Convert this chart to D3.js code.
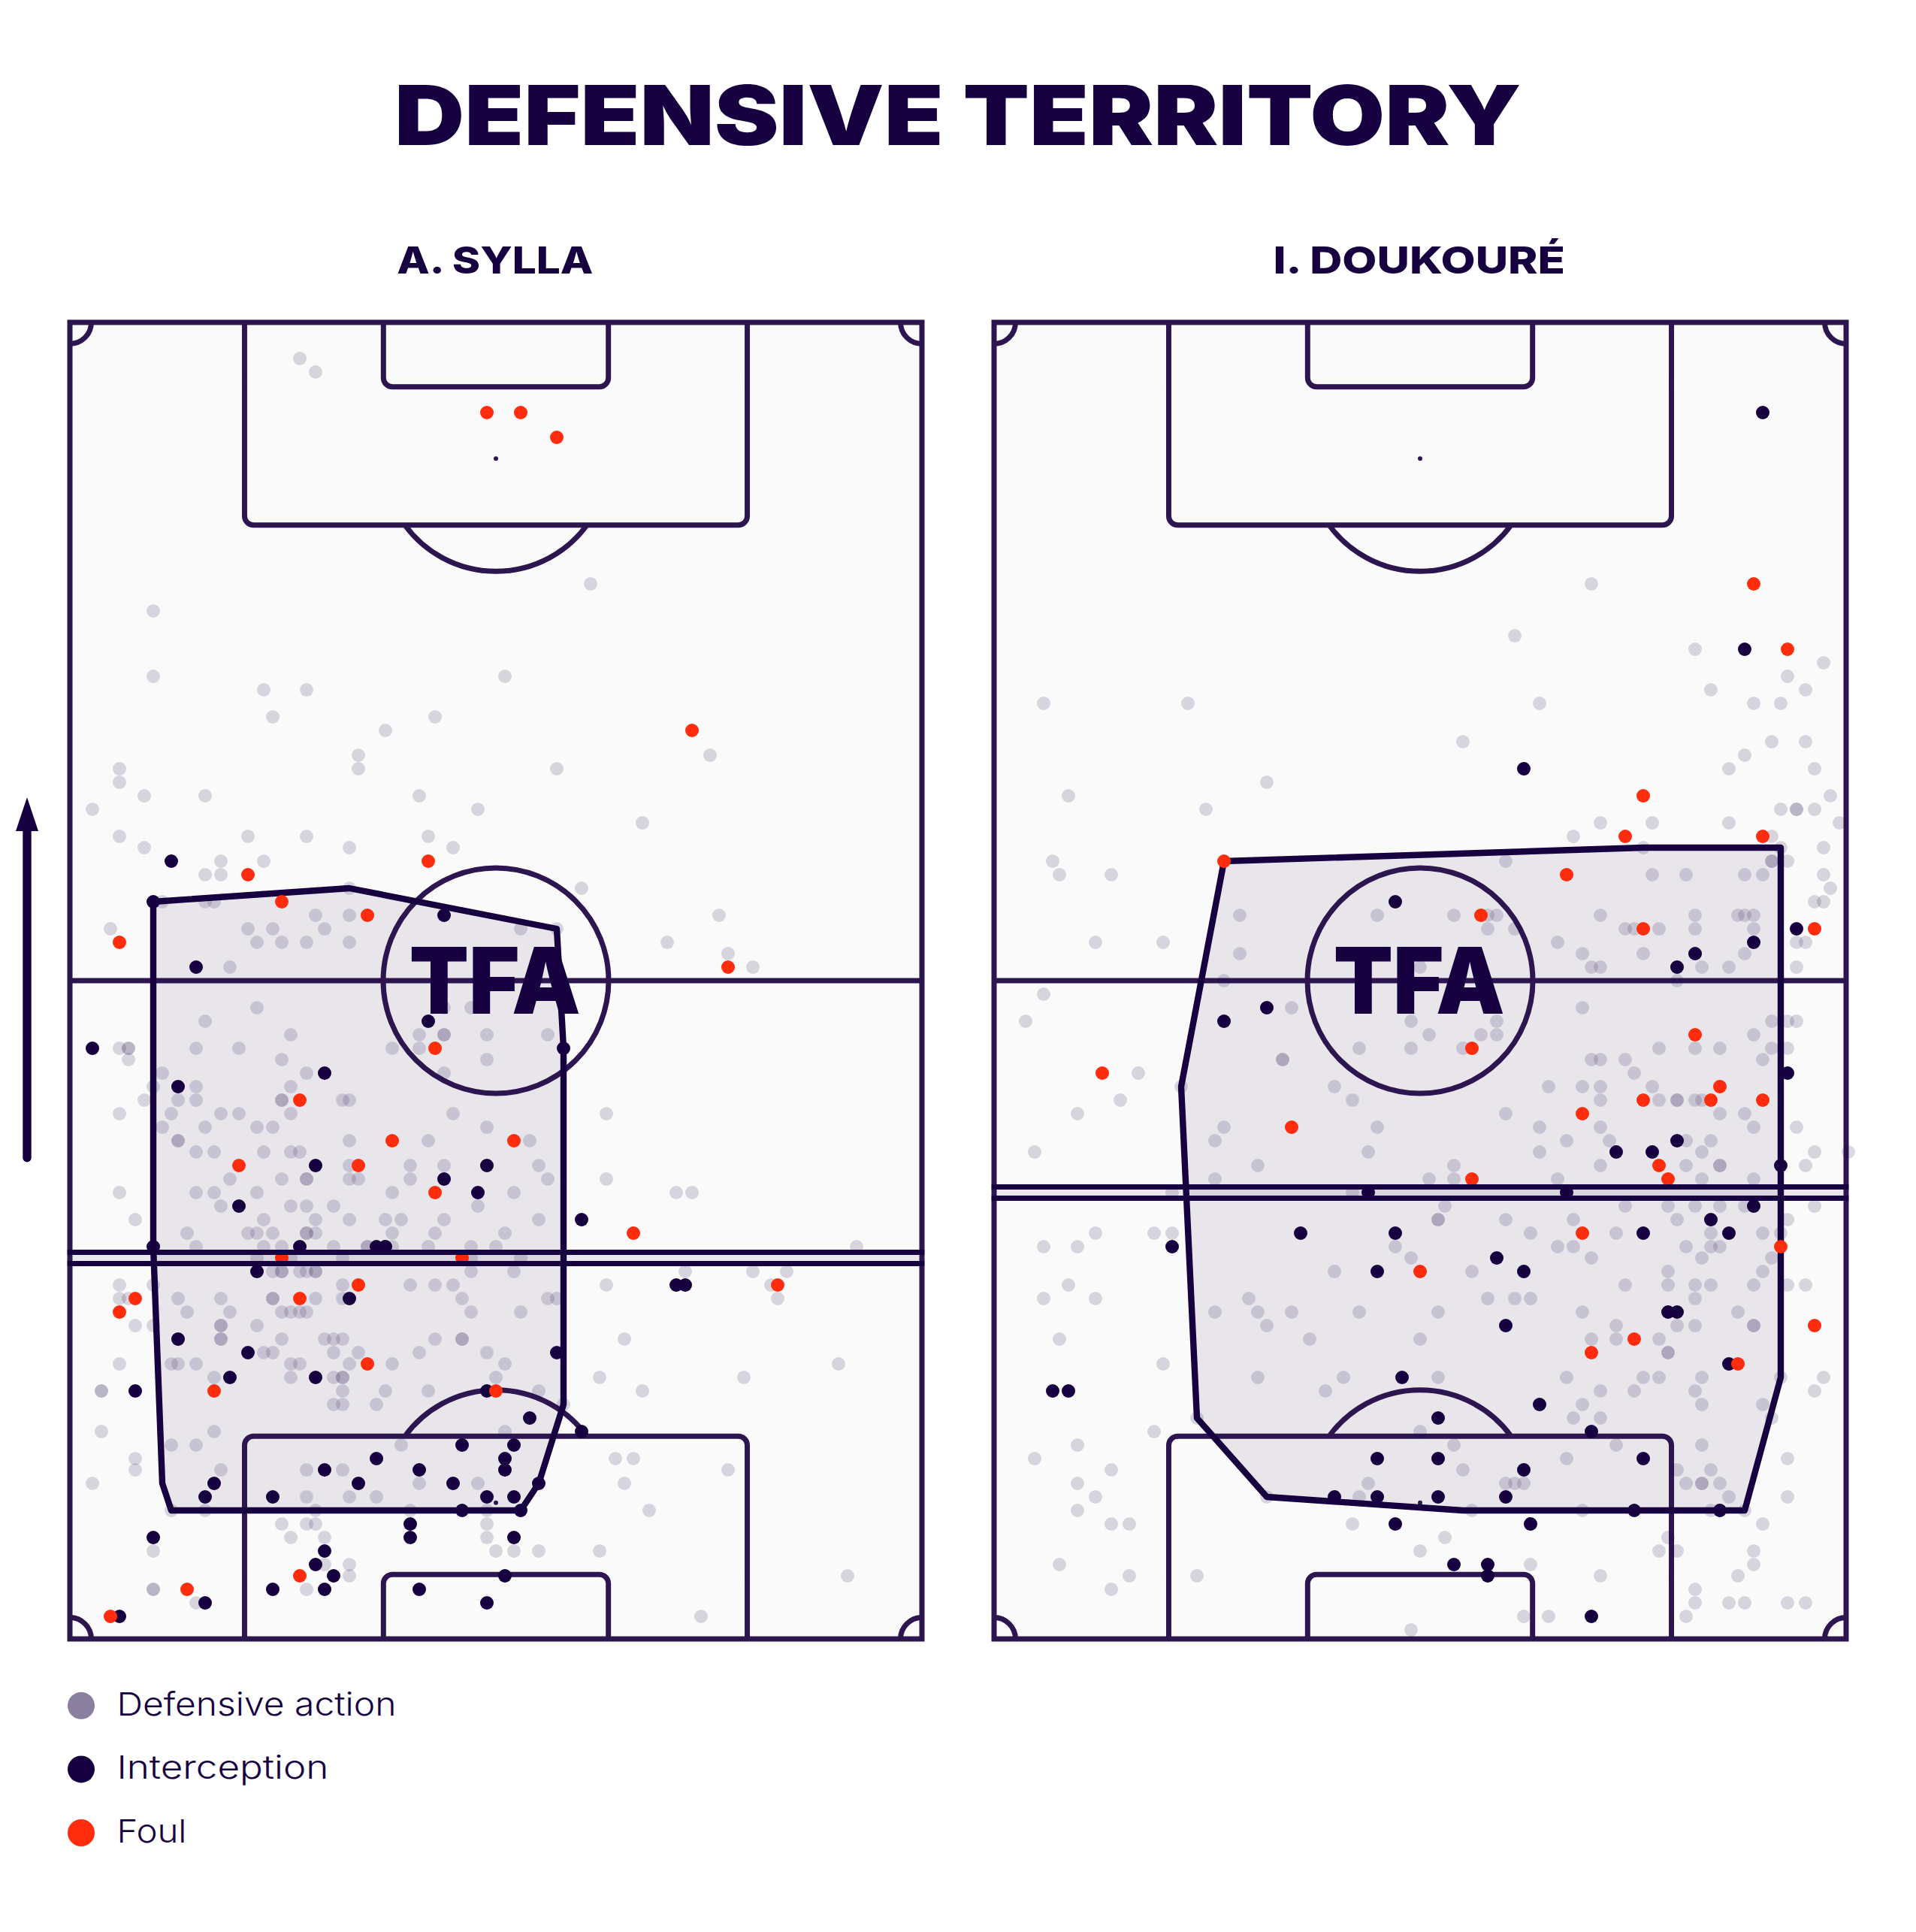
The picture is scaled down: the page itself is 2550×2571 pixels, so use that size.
<!DOCTYPE html>
<html><head><meta charset="UTF-8">
<style>
  html, body { margin: 0; background: #fff; }
  svg { display: block; }
  text { font-family: Inter, "Noto Sans", sans-serif; fill: #160040; }
</style>
<script src="https://cdn.jsdelivr.net/npm/d3@7"></script>
</head>
<body>
<svg id="chart"></svg>
<script>
// all points are [x, y] on a 0-100 pitch, y = 100 is the top goal
var chartTitle = "DEFENSIVE TERRITORY";
var playerNames = ["A. SYLLA", "I. DOUKOURÉ"];
var legendLabels = ["Defensive action", "Interception", "Foul"];

var syllaDefensive = [[27,97],[29,96],[61,80],[10,78],[10,73],[51,73],[23,72],[28,72],[24,70],[43,70],[37,69],[34,67],[34,66],[75,67],[57,66],[6,66],[6,65],[9,64],[16,64],[41,64],[3,63],[48,63],[67,62],[6,61],[21,61],[28,61],[42,61],[9,60],[33,60],[45,60],[18,59],[23,59],[16,58],[18,58],[33,57],[60,57],[11,56],[16,56],[17,56],[29,55],[33,55],[76,55],[5,54],[21,54],[24,54],[30,54],[53,54],[57,54],[22,53],[25,53],[28,53],[33,53],[70,53],[77,52],[19,51],[80,51],
  [22,48],[44,48],[47,48],[16,47],[26,46],[41,46],[44,46],[44,46],[49,46],[56,46],[6,45],[7,45],[7,45],[15,45],[20,45],[38,45],[41,45],[7,44],[25,44],[49,44],[11,43],[28,43],[44,43],[10,42],[15,42],[26,42],[9,41],[13,41],[15,41],[25,41],[25,41],[32,41],[33,41],[6,40],[12,40],[18,40],[20,40],[26,40],[45,40],[63,40],[11,39],[16,39],[22,39],[24,39],[49,39],[13,38],[13,38],[33,38],[42,38],[54,38],[15,37],[17,37],[23,37],[26,37],[27,37],[33,36],[40,36],[44,36],[55,36],[19,35],[25,35],[28,35],[28,35],[33,35],[34,35],[40,35],[56,35],[63,35],[6,34],[15,34],[17,34],[22,34],[38,34],[52,34],[71,34],[73,34],[18,33],[26,33],[28,33],[31,33],[48,33],[8,32],[23,32],[29,32],[33,32],[37,32],[39,32],[44,32],[55,32],[14,31],[21,31],[22,31],[24,31],[28,31],[28,31],[29,31],[38,31],[43,31],[51,31],[15,30],[23,30],[25,30],[31,30],[35,30],[35,30],[38,30],[42,30],[47,30],[50,30],[92,30],[22,29],[26,29],[32,29],[47,29],[53,29],[24,28],[25,28],[25,28],[27,28],[28,28],[29,28],[29,28],[47,28],[52,28],[72,28],[80,28],[84,28],[6,27],[10,27],[32,27],[40,27],[43,27],[45,27],[63,27],[82,27],[6,26],[7,26],[13,26],[18,26],[24,26],[24,26],[29,26],[32,26],[46,26],[56,26],[57,26],[83,26],[14,25],[19,25],[25,25],[26,25],[27,25],[28,25],[47,25],[53,25],[8,24],[10,24],[18,24],[18,24],[22,24],[18,23],[18,23],[25,23],[30,23],[31,23],[32,23],[43,23],[46,23],[46,23],[65,23],[23,22],[24,22],[31,22],[34,22],[41,22],[49,22],[6,21],[12,21],[13,21],[15,21],[26,21],[27,21],[33,21],[38,21],[51,21],[90,21],[17,20],[26,20],[31,20],[32,20],[32,20],[50,20],[62,20],[79,20],[4,19],[4,19],[32,19],[37,19],[42,19],[55,19],[67,19],[31,18],[32,18],[36,18],[58,18],[4,16],[17,16],[51,16],[12,15],[15,15],[39,15],[8,14],[64,14],[66,14],[8,13],[18,13],[28,13],[32,13],[77,13],[3,12],[41,12],[48,12],[65,12],[28,11],[33,11],[36,11],[12,10],[16,10],[29,10],[40,10],[49,10],[68,10],[25,9],[28,9],[29,9],[49,9],[26,8],[30,8],[49,8],[10,7],[50,7],[52,7],[55,7],[62,7],[30,6],[33,6],[33,5],[91,5],[10,4],[10,4],[28,4],[15,3],[74,2]];
var syllaInterceptions = [[12,59],[10,56],[44,55],[15,51],[42,47],[3,45],[58,45],[30,43],[13,42],[29,36],[49,36],[44,35],[48,34],[20,33],[60,32],[10,30],[27,30],[36,30],[37,30],[22,28],[71,27],[72,27],[33,26],[13,23],[21,22],[57,22],[19,20],[29,20],[8,19],[49,19],[54,17],[60,16],[46,15],[52,15],[36,14],[51,14],[30,13],[41,13],[51,13],[17,12],[34,12],[45,12],[55,12],[16,11],[24,11],[49,11],[52,11],[46,10],[53,10],[40,9],[10,8],[40,8],[52,8],[30,7],[29,6],[31,5],[51,5],[24,4],[30,4],[41,4],[16,3],[49,3],[6,2]];
var syllaFouls = [[49,93],[53,93],[57,91],[73,69],[42,59],[21,58],[25,56],[35,55],[6,53],[77,51],[43,45],[27,41],[38,38],[52,38],[20,36],[34,36],[43,34],[66,31],[25,29],[46,29],[34,27],[83,27],[8,26],[27,26],[6,25],[35,21],[17,19],[50,19],[27,5],[14,4],[5,2]];
var syllaHull = [[10,56],[33,57],[57,54],[58,45],[58,18],[55,12],[53,10],[12,10],[11,12],[10,30]];
var syllaLines = [29.37, 28.51]; // the double line, as pitch %

var doukoureDefensive = [[70,80],[61,76],[82,75],[97,74],[93,73],[84,72],[95,72],[6,71],[23,71],[64,71],[89,71],[92,71],[55,68],[91,68],[95,68],[88,67],[86,66],[96,66],[32,65],[9,64],[98,64],[25,63],[92,63],[94,63],[94,63],[96,63],[71,62],[77,62],[86,62],[99,62],[68,61],[91,61],[76,60],[92,60],[97,60],[7,59],[60,59],[91,59],[91,59],[93,59],[8,58],[14,58],[77,58],[81,58],[88,58],[90,58],[97,58],[98,57],[96,56],[97,56],[29,55],[45,55],[54,55],[58,55],[59,55],[71,55],[82,55],[87,55],[88,55],[89,55],[58,54],[61,54],[74,54],[75,54],[78,54],[82,54],[89,54],[12,53],[20,53],[66,53],[94,53],[95,53],[29,52],[69,52],[76,52],[88,52],[50,51],[70,51],[71,51],[83,51],[86,51],[94,51],
  [27,50],[80,50],[6,49],[35,48],[69,48],[4,47],[49,47],[59,47],[91,47],[93,47],[94,47],[51,46],[57,46],[59,46],[89,46],[43,45],[49,45],[55,45],[78,45],[82,45],[85,45],[91,45],[93,45],[34,44],[34,44],[70,44],[71,44],[74,44],[90,44],[17,43],[75,43],[22,42],[40,42],[65,42],[69,42],[71,42],[77,42],[15,41],[42,41],[71,41],[78,41],[80,41],[80,41],[82,41],[83,41],[10,40],[60,40],[85,40],[88,40],[27,39],[45,39],[64,39],[71,39],[89,39],[94,39],[26,38],[67,38],[72,38],[81,38],[84,38],[5,37],[44,37],[64,37],[83,37],[96,37],[100,37],[31,36],[54,36],[71,36],[81,36],[85,36],[85,36],[95,36],[26,35],[51,35],[54,35],[66,35],[83,35],[89,35],[21,34],[42,34],[53,33],[74,33],[79,33],[82,33],[85,33],[88,33],[96,33],[52,32],[52,32],[60,32],[68,32],[80,32],[93,32],[12,31],[19,31],[21,31],[63,31],[73,31],[84,31],[90,31],[92,31],[6,30],[10,30],[47,30],[66,30],[68,30],[81,30],[84,30],[85,30],[49,29],[70,29],[83,29],[91,29],[40,28],[56,28],[79,28],[90,28],[9,27],[74,27],[79,27],[82,27],[84,27],[89,27],[93,27],[95,27],[6,26],[12,26],[30,26],[58,26],[61,26],[63,26],[82,26],[26,25],[31,25],[35,25],[43,25],[52,25],[69,25],[87,25],[32,24],[73,24],[80,24],[82,24],[89,24],[89,24],[8,23],[37,23],[50,23],[70,23],[73,23],[78,23],[79,22],[79,22],[20,21],[31,20],[41,20],[52,20],[67,20],[76,20],[78,20],[83,20],[92,20],[97,20],[39,19],[71,19],[75,19],[82,19],[96,19],[69,18],[83,18],[90,18],[24,17],[68,17],[71,17],[91,17],[19,16],[50,16],[10,15],[54,15],[73,15],[83,15],[5,14],[67,14],[93,14],[14,13],[55,13],[80,13],[84,13],[10,12],[44,12],[60,12],[61,12],[62,12],[81,12],[83,12],[83,12],[85,12],[12,11],[32,11],[43,11],[86,11],[93,11],[10,10],[56,10],[69,10],[84,10],[88,10],[14,9],[16,9],[42,9],[90,9],[53,8],[79,8],[50,7],[78,7],[80,7],[89,7],[8,6],[63,6],[89,6],[16,5],[24,5],[71,5],[87,5],[14,4],[82,4],[82,3],[86,3],[88,3],[93,3],[95,3],[62,2],[65,2],[81,2],[49,1]];
var doukoureInterceptions = [[90,93],[88,75],[62,66],[47,56],[94,54],[89,53],[82,52],[80,51],[32,48],[27,47],[93,43],[80,38],[73,37],[77,37],[92,36],[44,34],[67,34],[89,33],[84,32],[36,31],[47,31],[76,31],[86,31],[21,30],[59,29],[45,28],[62,28],[79,25],[80,25],[60,24],[86,21],[48,20],[7,19],[9,19],[64,18],[52,17],[70,16],[45,14],[52,14],[76,14],[62,13],[40,11],[45,11],[52,11],[60,11],[75,10],[85,10],[47,9],[63,9],[54,6],[58,6],[58,5],[70,2]];
var doukoureFouls = [[89,80],[93,75],[76,64],[74,61],[90,61],[27,59],[67,58],[57,55],[76,54],[96,54],[82,46],[56,45],[13,43],[85,42],[76,41],[84,41],[90,41],[69,40],[35,39],[78,36],[56,35],[79,35],[69,31],[92,30],[50,28],[96,24],[75,23],[70,22],[87,21]];
var doukoureHull = [[27,59],[76,60],[92,60],[92,20],[88,10],[55,10],[32,11],[24,17],[22,42]];
var doukoureLines = [34.33, 33.48];

var panels = [
  {name: playerNames[0], defensive: syllaDefensive, interceptions: syllaInterceptions, fouls: syllaFouls, hull: syllaHull, lines: syllaLines, left: 0, nameLength: 87},
  {name: playerNames[1], defensive: doukoureDefensive, interceptions: doukoureInterceptions, fouls: doukoureFouls, hull: doukoureHull, lines: doukoureLines, left: 410, nameLength: 129.5}
];

var ink = "#160040", lineInk = "#2d1650", red = "#ff2d0d";

var svg = d3.select("#chart")
  .attr("width", 2550).attr("height", 2571)
  .attr("viewBox", "0 0 850 857");

// the source plots on a coarse pixel grid, so points snap like it did
var xDot = d3.scaleLinear().domain([0, 100]).rangeRound([30, 410]);
var yDot = d3.scaleLinear().domain([0, 100]).rangeRound([728.74, 141.54]);
// pitch markings
var xP = d3.scaleLinear().domain([0, 100]).range([31, 409]);
var yP = d3.scaleLinear().domain([0, 100]).range([727, 143]);

var hullLine = d3.line().x(function(d) { return xDot(d[0]); }).y(function(d) { return yDot(d[1]); }).curve(d3.curveLinearClosed);

function box(p, x0, x1, y0, y1, r) {
  // open towards the goal line, rounded on the far corners
  p.moveTo(xP(x0), yP(y0));
  p.arcTo(xP(x0), yP(y1), xP(x1), yP(y1), r);
  p.arcTo(xP(x1), yP(y1), xP(x1), yP(y0), r);
  p.lineTo(xP(x1), yP(y0));
}

function drawMarkings(g) {
  var p = d3.path();
  box(p, 20.5, 79.5, 100, 84.6, 4);
  box(p, 36.8, 63.2, 100, 95.1, 4);
  box(p, 20.5, 79.5, 0, 15.4, 4);
  box(p, 36.8, 63.2, 0, 4.9, 4);
  p.moveTo(xP(0), yP(50)); p.lineTo(xP(100), yP(50));
  // penalty arcs
  var cx = xP(50), r = 50, topSpot = yP(89.65), botSpot = yP(10.35), boxTop = yP(84.6), boxBot = yP(15.4);
  var a = Math.acos((boxTop - topSpot) / r);
  p.moveTo(cx + r * Math.sin(a), boxTop);
  p.arc(cx, topSpot, r, Math.PI / 2 - a, Math.PI / 2 + a);
  p.moveTo(cx + r * Math.sin(a), boxBot);
  p.arc(cx, botSpot, r, -Math.PI / 2 + a, -Math.PI / 2 - a, true);
  // centre circle
  p.moveTo(cx + r, yP(50));
  p.arc(cx, yP(50), r, 0, 2 * Math.PI);
  // corners
  var c = 9.5;
  p.moveTo(xP(0) + c, yP(100)); p.arc(xP(0), yP(100), c, 0, Math.PI / 2);
  p.moveTo(xP(100), yP(100) + c); p.arc(xP(100), yP(100), c, Math.PI / 2, Math.PI);
  p.moveTo(xP(0), yP(0) - c); p.arc(xP(0), yP(0), c, -Math.PI / 2, 0);
  p.moveTo(xP(100) - c, yP(0)); p.arc(xP(100), yP(0), c, Math.PI, 3 * Math.PI / 2);

  g.append("path").attr("d", p.toString()).attr("fill", "none").attr("stroke", lineInk).attr("stroke-width", 2.33);
  g.append("rect").attr("x", xP(0)).attr("y", yP(100)).attr("width", xP(100) - xP(0)).attr("height", yP(0) - yP(100))
    .attr("fill", "none").attr("stroke", lineInk).attr("stroke-width", 2.33);
  g.selectAll("circle.spot").data([89.65, 10.35]).enter().append("circle")
    .attr("class", "spot").attr("cx", xP(50)).attr("cy", function(d) { return yP(d); }).attr("r", 1).attr("fill", lineInk);
}

function drawDots(g, data, fill, opacity) {
  g.append("g").selectAll("circle").data(data).enter().append("circle")
    .attr("cx", function(d) { return xDot(d[0]); })
    .attr("cy", function(d) { return yDot(d[1]); })
    .attr("r", 3)
    .attr("fill", fill)
    .attr("fill-opacity", opacity);
}

// title
svg.append("text").attr("x", 425).attr("y", 64.3).attr("text-anchor", "middle")
  .attr("font-size", 36.7).attr("font-weight", 900)
  .attr("textLength", 500).attr("lengthAdjust", "spacingAndGlyphs").text(chartTitle);

panels.forEach(function(d) {
  var g = svg.append("g").attr("transform", "translate(" + d.left + ",0)");

  g.append("text").attr("x", 219.6).attr("y", 121.2).attr("text-anchor", "middle")
    .attr("font-size", 16.7).attr("font-weight", 800)
    .attr("textLength", d.nameLength).attr("lengthAdjust", "spacingAndGlyphs").text(d.name);

  g.append("rect").attr("x", xP(0)).attr("y", yP(100)).attr("width", xP(100) - xP(0)).attr("height", yP(0) - yP(100)).attr("fill", "#fafafa");
  g.append("path").attr("d", hullLine(d.hull)).attr("fill", ink).attr("fill-opacity", 0.08);
  drawMarkings(g);
  g.append("path").attr("d", hullLine(d.hull)).attr("fill", "none").attr("stroke", ink).attr("stroke-width", 2.8).attr("stroke-linejoin", "round");

  drawDots(g, d.defensive, ink, 0.15);
  drawDots(g, d.interceptions, ink, 1);
  drawDots(g, d.fouls, red, 1);

  // double line sits above the dots, with a faint band inside it
  g.append("rect").attr("x", xP(0)).attr("y", yP(d.lines[0])).attr("width", xP(100) - xP(0))
    .attr("height", yP(d.lines[1]) - yP(d.lines[0])).attr("fill", ink).attr("fill-opacity", 0.07);
  g.selectAll("line.avg").data(d.lines).enter().append("line")
    .attr("class", "avg")
    .attr("x1", xP(0) - 1.1).attr("x2", xP(100) + 1.1)
    .attr("y1", function(v) { return yP(v); }).attr("y2", function(v) { return yP(v); })
    .attr("stroke", ink).attr("stroke-width", 2.33);

  g.append("text").attr("x", 219.6).attr("y", 449.5).attr("text-anchor", "middle")
    .attr("font-size", 40.8).attr("font-weight", 900)
    .attr("textLength", 76).attr("lengthAdjust", "spacingAndGlyphs").text("TFA");
});

// direction arrow
var arrow = d3.path();
arrow.moveTo(12, 513.6); arrow.lineTo(12, 365);
svg.append("path").attr("d", arrow.toString()).attr("stroke", ink).attr("stroke-width", 3.8).attr("stroke-linecap", "round");
var head = d3.path();
head.moveTo(12, 353.7); head.lineTo(17, 368.7); head.lineTo(7, 368.7); head.closePath();
svg.append("path").attr("d", head.toString()).attr("fill", ink);

// legend
var legendColor = d3.scaleOrdinal().domain(legendLabels).range(["#8a7f9f", ink, red]);
var legendLength = d3.scaleOrdinal().domain(legendLabels).range([124, 94, 31]);
var legendY = d3.scalePoint().domain(legendLabels).range([756.6, 813]);
var legend = svg.append("g").selectAll("g").data(legendLabels).enter().append("g")
  .attr("transform", function(d) { return "translate(0," + legendY(d) + ")"; });
legend.append("circle").attr("cx", 36).attr("r", 6).attr("fill", function(d) { return legendColor(d); });
legend.append("text").attr("x", 51.8).attr("y", 4.3).attr("font-size", 14.3).attr("font-weight", 300)
  .attr("textLength", function(d) { return legendLength(d); }).attr("lengthAdjust", "spacingAndGlyphs")
  .text(function(d) { return d; });
</script>
</body></html>
